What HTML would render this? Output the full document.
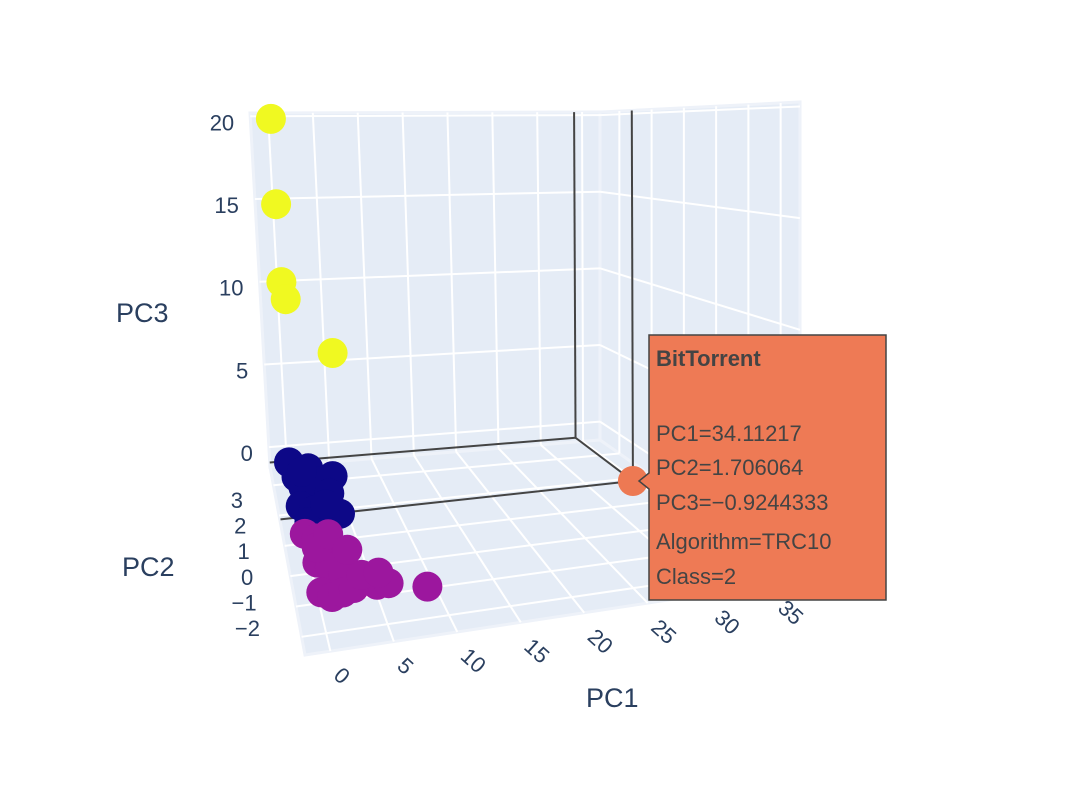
<!DOCTYPE html>
<html><head><meta charset="utf-8">
<style>
html,body{margin:0;padding:0;background:#fff;}
body{width:1086px;height:798px;overflow:hidden;font-family:"Liberation Sans",sans-serif;}
svg text{font-family:"Liberation Sans",sans-serif;}
</style></head>
<body>
<svg id="chart" width="1086" height="798" viewBox="0 0 1086 798" xmlns="http://www.w3.org/2000/svg">
<g id="scene"></g>
</svg>
<script>
// ---- data ----
const xTicks = [0,5,10,15,20,25,30,35];
const yTicks = [-2,-1,0,1,2,3];
const zTicks = [0,5,10,15,20];
const navyX = [0,0.5,1,2,3,4.3,0.3,1.5,2.5,4,0.8,3.5,1.2,2.8];
const navyY = [3.2,2.8,2.5,3.0,2.2,2.6,2.0,1.8,2.6,1.6,1.5,2.2,2.9,1.9];
const navyZ = [-0.3,-0.5,-0.6,-0.4,-0.7,-0.3,-0.8,-0.8,-0.5,-0.8,-0.9,-0.6,-0.4,-0.7];
const purpleX = [0,1,2,3,0.5,1.5,2.5,4,5,6,0.2,1,2,3,4,9,0.8,2.2,3.5,5.5];
const purpleY = [1,0.8,0.5,0.2,0,-0.2,-0.5,-0.8,-1,-1,-1,-1.2,-1.1,-1,-0.6,-1.3,0.5,0.9,0.3,-0.6];
const purpleZ = [-0.7,-0.7,-0.7,-0.7,-0.7,-0.7,-0.7,-0.7,-0.7,-0.7,-0.7,-0.7,-0.7,-0.7,-0.7,-0.7,-0.7,-0.7,-0.7,-0.7];
const yellowX = [0,0,0,0.3,5.5];
const yellowY = [3.3,3.2,3.0,2.9,3.2];
const yellowZ = [20,15,10.6,9.7,6];
const hoverX = [34.11217];
const hoverY = [1.706064];
const hoverZ = [-0.9244333];

// ---- projection (trilinear from cube corners) ----
const XR=[-2,37], YR=[-2.6,3.6], ZR=[-1.2,20.2];
const C = {
  '000':[305,655],'100':[800,580],'010':[270,467],'110':[600,440],
  '001':[300,170],'101':[800,102],'011':[250,113],'111':[600,112]
};
function proj(x,y,z){
  const a=(x-XR[0])/(XR[1]-XR[0]), b=(y-YR[0])/(YR[1]-YR[0]), c=(z-ZR[0])/(ZR[1]-ZR[0]);
  let px=0,py=0;
  for(const i of [0,1])for(const j of [0,1])for(const k of [0,1]){
    const w=(i?a:1-a)*(j?b:1-b)*(k?c:1-c);
    const p=C[''+i+j+k]; px+=w*p[0]; py+=w*p[1];
  }
  return [px,py];
}
const NS='http://www.w3.org/2000/svg';
const scene=document.getElementById('scene');
function el(tag,attrs,parent){const e=document.createElementNS(NS,tag);for(const k in attrs)e.setAttribute(k,attrs[k]);(parent||scene).appendChild(e);return e;}
function poly(pts){return pts.map(p=>p[0].toFixed(1)+','+p[1].toFixed(1)).join(' ');}
function line(p,q,stroke,w,name){const l=el('line',{x1:p[0],y1:p[1],x2:q[0],y2:q[1],stroke:stroke,'stroke-width':w});

return l;}

// walls
const back=el('polygon',{points:poly([proj(XR[0],YR[1],ZR[0]),proj(XR[1],YR[1],ZR[0]),proj(XR[1],YR[1],ZR[1]),proj(XR[0],YR[1],ZR[1])]),fill:'#e5ecf6',stroke:'#eef2f9','stroke-width':3});


const side=el('polygon',{points:poly([proj(XR[1],YR[1],ZR[0]),proj(XR[1],YR[0],ZR[0]),proj(XR[1],YR[0],ZR[1]),proj(XR[1],YR[1],ZR[1])]),fill:'#e5ecf6',stroke:'#eef2f9','stroke-width':3});


const floor=el('polygon',{points:poly([proj(XR[0],YR[0],ZR[0]),proj(XR[1],YR[0],ZR[0]),proj(XR[1],YR[1],ZR[0]),proj(XR[0],YR[1],ZR[0])]),fill:'#e5ecf6',stroke:'#eef2f9','stroke-width':3});



// grid
xTicks.forEach(t=>{
  line(proj(t,YR[1],ZR[0]),proj(t,YR[1],ZR[1]),'#fff',2,'x-gridline-back');
  line(proj(t,YR[0],ZR[0]),proj(t,YR[1],ZR[0]),'#fff',2,'x-gridline-floor');
});
zTicks.forEach(t=>{
  line(proj(XR[0],YR[1],t),proj(XR[1],YR[1],t),'#fff',2,'z-gridline-back');
  line(proj(XR[1],YR[1],t),proj(XR[1],YR[0],t),'#fff',2,'z-gridline-side');
});
yTicks.forEach(t=>{
  line(proj(XR[0],t,ZR[0]),proj(XR[1],t,ZR[0]),'#fff',2,'y-gridline-floor');
  line(proj(XR[1],t,ZR[0]),proj(XR[1],t,ZR[1]),'#fff',2,'y-gridline-side');
});

// spikes from hovered point
const hx=hoverX[0],hy=hoverY[0],hz=hoverZ[0];
const sp='#444';
line(proj(XR[0],YR[1],hz),proj(hx,YR[1],hz),sp,2,'spike-back');
line(proj(hx,YR[1],hz),proj(hx,YR[1],ZR[1]),sp,2,'spike-back-vertical');
line(proj(hx,hy,hz),proj(hx,YR[1],hz),sp,2,'spike-y');
line(proj(hx,hy,hz),proj(XR[0],hy,hz),sp,2,'spike-x');
line(proj(hx,hy,hz),proj(hx,hy,ZR[1]),sp,2,'spike-z');

// ticks
function txt(s,x,y,attrs,name){const t=el('text',Object.assign({x:x,y:y,fill:'#2a3f5f','font-size':22},attrs||{}));t.textContent=s;

return t;}
zTicks.forEach(t=>{const p=proj(XR[0],YR[1],t);txt(String(t),p[0]-16,p[1]+14,{'text-anchor':'end'},'z-tick-label');});
function yLab(t){const f=(t-yTicks[0])/(yTicks[yTicks.length-1]-yTicks[0]);return [260-17*f,636-128*f];}
yTicks.forEach(t=>{const p=yLab(t);txt(String(t).replace('-','\u2212'),p[0],p[1],{'text-anchor':'end'},'y-tick-label');});
xTicks.forEach(t=>{const p=proj(t,YR[0],ZR[0]);const lx=p[0]+2,ly=p[1]+26;
  txt(String(t),lx,ly,{'text-anchor':'start',transform:'rotate(42 '+lx+' '+ly+')'},'x-tick-label');});
txt('PC3',116,322,{'font-size':27},'z-axis-title');
txt('PC2',122,576,{'font-size':27},'y-axis-title');
txt('PC1',586,707,{'font-size':27},'x-axis-title');

// markers
function series(xs,ys,zs,color,name){
  const g=el('g',{});
  
  
  xs.forEach((x,i)=>{const p=proj(x,ys[i],zs[i]);
    const c=el('circle',{cx:p[0].toFixed(1),cy:p[1].toFixed(1),r:15,fill:color},g);
    
    });
}
series(navyX,navyY,navyZ,'#0d0887','class-0-series');
series(purpleX,purpleY,purpleZ,'#9c179e','class-1-series');
series(yellowX,yellowY,yellowZ,'#f0f921','class-3-series');
series(hoverX,hoverY,hoverZ,'#ed7953','class-2-series');

// tooltip
const hp=proj(hx,hy,hz);
const tip=el('g',{});


const bx=649,by=335,bw=237,bh=265;
const ay=hp[1];
el('path',{d:`M${bx} ${by} H${bx+bw} V${by+bh} H${bx} V${ay+8} L${bx-10} ${ay} L${bx} ${ay-8} Z`,fill:'#ee7a55',stroke:'#444','stroke-width':1.5},tip);
const lines=['BitTorrent','','PC1=34.11217','PC2=1.706064','PC3=\u22120.9244333','Algorithm=TRC10','Class=2'];
const ys=[366,0,441,475,510,549,584];
lines.forEach((s,i)=>{if(!s)return;const t=el('text',{x:656,y:ys[i],fill:'#444','font-size':22,'font-weight':i==0?'bold':'normal'},tip);t.textContent=s;

});
</script>
</body></html>
